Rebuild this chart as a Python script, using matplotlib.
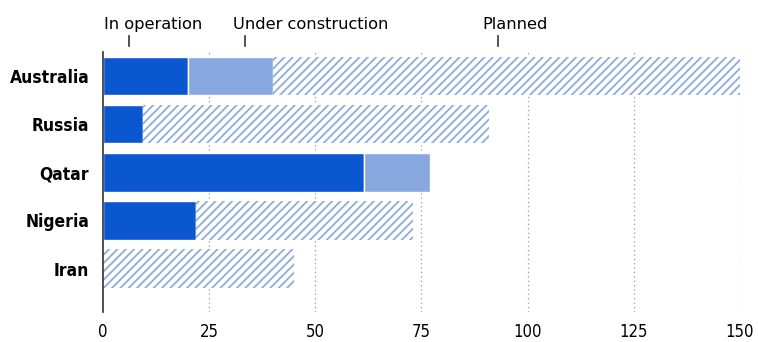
import matplotlib
matplotlib.use("Agg")
import matplotlib.pyplot as plt
import numpy as np

plt.rcParams['font.family'] = ['DejaVu Sans']
plt.rcParams['hatch.linewidth'] = 1.3

# data (amounts per stage)
countries = ['Australia', 'Russia', 'Qatar', 'Nigeria', 'Iran']
in_operation = [20, 9.5, 61.5, 22, 0]
under_construction = [20, 0, 15.5, 0, 0]
planned = [110, 81.5, 0, 51, 45]
x_ticks = [0, 25, 50, 75, 100, 125, 150]

dark = '#0a57d1'
light = '#86a8de'
hatch_col = '#8dacdc'

fig = plt.figure(figsize=(7.58, 3.42), dpi=100)
ax = fig.add_axes([0.136, 0.088, 0.84, 0.76])

y = np.arange(len(countries))
h = 0.8
op = np.array(in_operation)
uc = np.array(under_construction)
pl = np.array(planned)

ax.barh(y, op, height=h, color=dark, edgecolor='white', linewidth=1, zorder=3)
ax.barh(y, uc, left=op, height=h, color=light, edgecolor='white', linewidth=1, zorder=3)
ax.barh(y, pl, left=op + uc, height=h, color='white', edgecolor=hatch_col,
        hatch='////', linewidth=0, zorder=3)

ax.set_ylim(4.9, -0.5)
ax.set_xlim(0, 150)
ax.set_yticks(y)
ax.set_yticklabels(countries, fontsize=12.5, fontweight='bold', fontstretch='condensed')
ax.set_xticks(x_ticks)
ax.set_xticklabels([str(t) for t in x_ticks], fontsize=12, fontstretch='condensed')
ax.tick_params(axis='both', length=0, pad=10)
ax.tick_params(axis='x', pad=8)

for t in x_ticks[1:]:
    ax.axvline(t, color='#999999', linestyle=(0, (1, 2.5)), linewidth=0.9, zorder=1)

for s in ['top', 'right', 'bottom']:
    ax.spines[s].set_visible(False)
ax.spines['left'].set_color('#333333')
ax.spines['left'].set_linewidth(1.2)
ax.spines['left'].set_zorder(4)

# stage labels at the top
labels = [('In operation', 6, 11.8), ('Under construction', 33.5, 49), ('Planned', 93, 97)]
for text, tick_x, text_x in labels:
    ax.plot([tick_x, tick_x], [-0.62, -0.84], color='#333333', linewidth=1.2,
            clip_on=False, zorder=5)
    ax.text(text_x, -1.07, text, ha='center', va='center', fontsize=11.7,
            clip_on=False)

fig.savefig('out.png', dpi=100)
